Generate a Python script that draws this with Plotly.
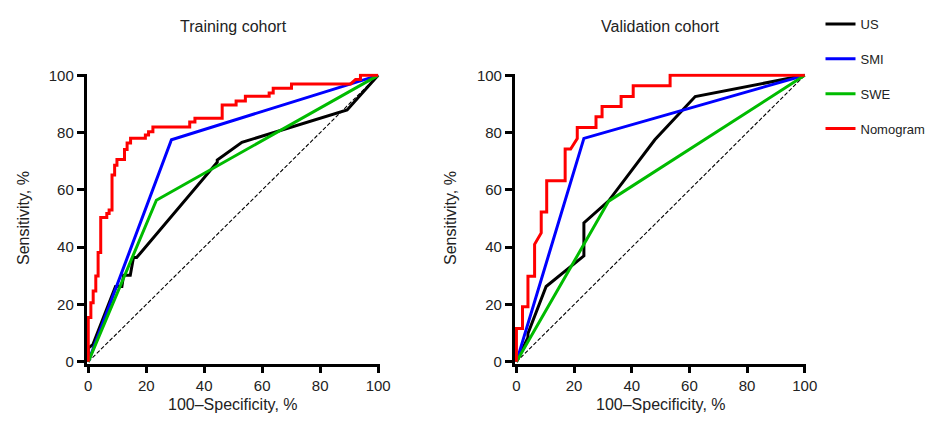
import plotly.graph_objects as go

# ---------------- Data ----------------
# Training cohort
train_us_x = [0, 0, 1.6, 9.4, 11.6, 12.2, 14.5, 15.6, 16.7, 44.5, 44.5, 53, 89.3, 100]
train_us_y = [0, 4.8, 6, 26.3, 26.3, 30.2, 30.2, 36.4, 36.4, 69.7, 70.4, 76.6, 87.9, 100]
train_smi_x = [0, 28.7, 100]
train_smi_y = [0, 77.5, 100]
train_swe_x = [0, 23.5, 100]
train_swe_y = [0, 56.4, 100]
train_nom_x = [0, 0, 0.9, 0.9, 1.7, 1.7, 2.6, 2.6, 3.4, 3.4, 4.3, 4.3, 6.4, 6.4, 7.2, 7.2,
               8.2, 8.2, 9.1, 9.1, 9.9, 9.9, 12.5, 12.5, 13.4, 13.4, 14.6, 14.6, 19.7, 19.7,
               20.8, 20.8, 22.3, 22.3, 35, 35, 36.8, 36.8, 46.2, 46.2, 51, 51, 54.2, 54.2,
               62.4, 62.4, 63.8, 63.8, 70.1, 70.1, 73.3, 73.3, 90.5, 92.2, 93.9, 93.9, 100]
train_nom_y = [0, 15.5, 15.5, 20.6, 20.6, 24.7, 24.7, 30, 30, 38.2, 38.2, 50.4, 50.4, 51.8, 51.8, 53,
               53, 65.2, 65.2, 68.6, 68.6, 70.6, 70.6, 74.1, 74.1, 76.4, 76.4, 78, 78, 79.2,
               79.2, 80.3, 80.3, 82, 82, 83.7, 83.7, 85, 85, 89.6, 89.6, 91, 91, 92.7,
               92.7, 93.8, 93.8, 95.5, 95.5, 97, 97, 97, 97, 98.5, 98.5, 100, 100]

# Validation cohort
val_us_x = [0, 4, 4, 10.3, 23.4, 23.4, 32, 48, 62, 100]
val_us_y = [0, 8.5, 9.9, 26.3, 37, 48.5, 56.2, 77.5, 92.6, 100]
val_smi_x = [0, 23.4, 100]
val_smi_y = [0, 78, 100]
val_swe_x = [0, 32, 100]
val_swe_y = [0, 56.1, 100]
val_nom_x = [0, 0, 2.1, 2.1, 4.0, 4.0, 6.3, 6.3, 8.6, 8.6, 10.5, 10.5, 16.9, 16.9, 18.8,
             21.1, 21.1, 27.6, 27.6, 29.7, 29.7, 36.3, 36.3, 40.5, 40.5, 53.3, 53.3, 100]
val_nom_y = [0, 11.6, 11.6, 19.2, 19.2, 29.9, 29.9, 41, 45, 52.3, 52.3, 63.2, 63.2, 74.3, 74.3,
             77.9, 81.8, 81.8, 85.5, 85.5, 89.1, 89.1, 92.6, 92.6, 96.4, 96.4, 100, 100]

ref_x = [0, 100]
ref_y = [0, 100]

tick_vals = [0, 20, 40, 60, 80, 100]
tick_text = ["0", "20", "40", "60", "80", "100"]

series_names = ["US", "SMI", "SWE", "Nomogram"]
series_colors = ["#000000", "#0000FF", "#00BB00", "#FF0000"]

panels = [
    ("Training cohort", [(train_us_x, train_us_y), (train_smi_x, train_smi_y),
                         (train_swe_x, train_swe_y), (train_nom_x, train_nom_y)]),
    ("Validation cohort", [(val_us_x, val_us_y), (val_smi_x, val_smi_y),
                           (val_swe_x, val_swe_y), (val_nom_x, val_nom_y)]),
]

FONT = "Liberation Sans, Arial, sans-serif"
W, H = 938, 426

fig = go.Figure()

x_domains = [[85.7 / W, 383.2 / W], [519.9 / W, 815.8 / W]]
y_domain = [1 - 367.8 / H, 1 - 68.7 / H]

for i, (title, series) in enumerate(panels):
    xa = "x" if i == 0 else "x2"
    ya = "y" if i == 0 else "y2"
    fig.add_trace(go.Scatter(x=ref_x, y=ref_y, mode="lines", xaxis=xa, yaxis=ya,
                             line=dict(color="black", width=1.1, dash="4px,2px"),
                             showlegend=False, hoverinfo="skip"))
    for k, (sx, sy) in enumerate(series):
        fig.add_trace(go.Scatter(x=sx, y=sy, mode="lines", xaxis=xa, yaxis=ya,
                                 name=series_names[k], legendgroup=series_names[k],
                                 line=dict(color=series_colors[k], width=3),
                                 showlegend=(i == 0)))

axis_common = dict(range=[-0.6, 100.6], tickvals=tick_vals, ticktext=tick_text,
                   showgrid=False, zeroline=False, showline=True, linecolor="black",
                   linewidth=2.5, ticks="outside", ticklen=7, tickwidth=2.5,
                   tickcolor="black", tickfont=dict(family=FONT, size=15, color="#222"),
                   fixedrange=True)

fig.update_layout(
    width=W, height=H,
    margin=dict(l=0, r=0, t=0, b=0),
    paper_bgcolor="white", plot_bgcolor="white",
    xaxis=dict(domain=x_domains[0], anchor="y", **axis_common),
    yaxis=dict(domain=y_domain, anchor="x", **axis_common),
    xaxis2=dict(domain=x_domains[1], anchor="y2", **axis_common),
    yaxis2=dict(domain=y_domain, anchor="x2", **axis_common),
    legend=dict(x=830 / W, y=1 - 2 / H, xanchor="left", yanchor="top",
                font=dict(family=FONT, size=13, color="#222"),
                tracegroupgap=15, bgcolor="rgba(0,0,0,0)"),
    showlegend=True,
)

annotations = []
centers = [(87.5 + 381.5) / 2, (521.7 + 814) / 2]
for i, (title, _) in enumerate(panels):
    annotations.append(dict(text=title, x=centers[i] / W, y=1 - 20 / H, xref="paper", yref="paper",
                            showarrow=False, xanchor="center", yanchor="middle",
                            font=dict(family=FONT, size=16, color="#222")))
    annotations.append(dict(text="100–Specificity, %", x=centers[i] / W, y=1 - 410 / H,
                            xref="paper", yref="paper", showarrow=False,
                            xanchor="center", yanchor="middle",
                            font=dict(family=FONT, size=16, color="#222")))
    left = [22, 455][i]
    annotations.append(dict(text="Sensitivity, %", x=left / W, y=1 - 218 / H,
                            xref="paper", yref="paper", showarrow=False, textangle=-90,
                            xanchor="center", yanchor="middle",
                            font=dict(family=FONT, size=16, color="#222")))
fig.update_layout(annotations=annotations)

fig.write_html("out.html", config={"displayModeBar": False},
               post_script="document.body.style.margin='0';document.body.style.overflow='hidden';")
